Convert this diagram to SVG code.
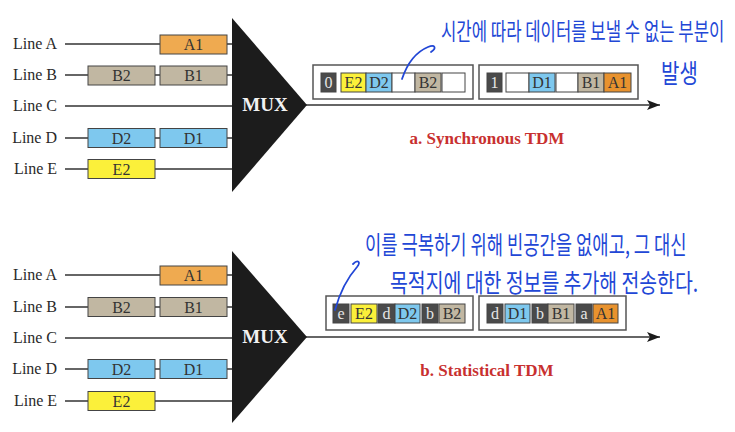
<svg xmlns="http://www.w3.org/2000/svg" width="735" height="432" viewBox="0 0 735 432">
<defs>
<style>
.lbl{font-family:"Liberation Serif","Times New Roman",serif;font-size:16px;fill:#2a2a2a;text-anchor:end}
.ln{stroke:#333;stroke-width:1.5;fill:none}
.bx{stroke:#444;stroke-width:1}
.bt{font-family:"Liberation Serif","Times New Roman",serif;font-size:16px;fill:#333;text-anchor:middle}
.dt{font-family:"Liberation Serif","Times New Roman",serif;font-size:16px;fill:#e6e6e6;text-anchor:middle}
.a{fill:#efaa50}.a2{fill:#e8922e}.b{fill:#c1b7a2}.d{fill:#7ec8ee}.e{fill:#fbf03a}.k{fill:#4a4a4a}.w{fill:#fff}
.frame{fill:#fff;stroke:#555;stroke-width:1.5}
.mux{fill:#1c1c1c}
.mt{font-family:"Liberation Serif","Times New Roman",serif;font-size:19px;font-weight:bold;fill:#f2f2f2;text-anchor:middle}
.cap{font-family:"Liberation Serif","Times New Roman",serif;font-size:17px;font-weight:bold;fill:#c8302f;text-anchor:middle}
.hw{font-family:"Noto Sans CJK KR","Noto Sans CJK SC",sans-serif;fill:#2247d6}
.hs{stroke:#2247d6;stroke-width:1.8;fill:none;stroke-linecap:round}
</style>
<marker id="arr" markerWidth="14" markerHeight="10" refX="13" refY="5" orient="auto" markerUnits="userSpaceOnUse">
<path d="M0,0 L13,5 L0,10 L3,5 Z" fill="#1c1c1c"/>
</marker>
</defs>

<!-- ===== Top: Synchronous TDM ===== -->
<g id="connectors-top">
<line class="ln" x1="65" y1="44" x2="232" y2="44"/>
<line class="ln" x1="65" y1="75" x2="232" y2="75"/>
<line class="ln" x1="65" y1="106" x2="232" y2="106"/>
<line class="ln" x1="65" y1="138" x2="232" y2="138"/>
<line class="ln" x1="65" y1="169" x2="232" y2="169"/>
<line class="ln" x1="305" y1="105" x2="660" y2="105" marker-end="url(#arr)"/>
</g>

<g id="labels-top">
<text class="lbl" x="57" y="49">Line A</text>
<text class="lbl" x="57" y="80">Line B</text>
<text class="lbl" x="57" y="111">Line C</text>
<text class="lbl" x="57" y="143">Line D</text>
<text class="lbl" x="57" y="174">Line E</text>
</g>

<g id="inputs-top">
<rect class="bx a" x="160" y="35" width="67" height="19"/><text class="bt" x="193.5" y="50">A1</text>
<rect class="bx b" x="88" y="66" width="67" height="19"/><text class="bt" x="121.5" y="81">B2</text>
<rect class="bx b" x="160" y="66" width="67" height="19"/><text class="bt" x="193.5" y="81">B1</text>
<rect class="bx d" x="88" y="128.5" width="67" height="19"/><text class="bt" x="121.5" y="143.5">D2</text>
<rect class="bx d" x="160" y="128.5" width="67" height="19"/><text class="bt" x="193.5" y="143.5">D1</text>
<rect class="bx e" x="88" y="159.5" width="67" height="19"/><text class="bt" x="121.5" y="174.5">E2</text>
</g>

<g id="mux-top">
<polygon class="mux" points="232,18 307,105 232,192"/>
<text class="mt" x="265" y="111">MUX</text>
</g>

<g id="frame-top-0">
<rect class="frame" x="313" y="65" width="160" height="34"/>
<rect class="bx k" x="321" y="73" width="15" height="19"/><text class="dt" x="328.5" y="88">0</text>
<rect class="bx e" x="341" y="73" width="25" height="19"/><text class="bt" x="353.5" y="88">E2</text>
<rect class="bx d" x="366" y="73" width="26" height="19"/><text class="bt" x="379" y="88">D2</text>
<rect class="bx w" x="392" y="73" width="23" height="19"/>
<rect class="bx b" x="415" y="73" width="26" height="19"/><text class="bt" x="428" y="88">B2</text>
<rect class="bx w" x="442" y="73" width="23" height="19"/>
</g>

<g id="frame-top-1">
<rect class="frame" x="479" y="65" width="159" height="34"/>
<rect class="bx k" x="487" y="73" width="15" height="19"/><text class="dt" x="494.5" y="88">1</text>
<rect class="bx w" x="506" y="73" width="23" height="19"/>
<rect class="bx d" x="529" y="73" width="26" height="19"/><text class="bt" x="542" y="88">D1</text>
<rect class="bx w" x="556" y="73" width="22" height="19"/>
<rect class="bx b" x="578" y="73" width="26" height="19"/><text class="bt" x="591" y="88">B1</text>
<rect class="bx a2" x="604" y="73" width="27" height="19"/><text class="bt" x="617.5" y="88">A1</text>
</g>

<text class="cap" x="487" y="144">a. Synchronous TDM</text>

<g id="note-top">
<path class="hs" d="M402,79 C407,64 416,52 428,47 C435,44 437,48 431,52"/>
<text class="hw" transform="translate(441,40) scale(1,1.4)" font-size="16.7">시간에 따라 데이터를 보낼 수 없는 부분이</text>
<text class="hw" transform="translate(661,83) scale(1,1.3)" font-size="20">발생</text>
</g>

<!-- ===== Bottom: Statistical TDM ===== -->
<g id="connectors-bottom">
<line class="ln" x1="65" y1="275" x2="232" y2="275"/>
<line class="ln" x1="65" y1="307" x2="232" y2="307"/>
<line class="ln" x1="65" y1="338" x2="232" y2="338"/>
<line class="ln" x1="65" y1="369" x2="232" y2="369"/>
<line class="ln" x1="65" y1="401" x2="232" y2="401"/>
<line class="ln" x1="305" y1="337" x2="660" y2="337" marker-end="url(#arr)"/>
</g>

<g id="labels-bottom">
<text class="lbl" x="57" y="280">Line A</text>
<text class="lbl" x="57" y="312">Line B</text>
<text class="lbl" x="57" y="343">Line C</text>
<text class="lbl" x="57" y="374">Line D</text>
<text class="lbl" x="57" y="406">Line E</text>
</g>

<g id="inputs-bottom">
<rect class="bx a" x="160" y="266" width="67" height="19"/><text class="bt" x="193.5" y="281">A1</text>
<rect class="bx b" x="88" y="297.5" width="67" height="19"/><text class="bt" x="121.5" y="312.5">B2</text>
<rect class="bx b" x="160" y="297.5" width="67" height="19"/><text class="bt" x="193.5" y="312.5">B1</text>
<rect class="bx d" x="88" y="359.5" width="67" height="19"/><text class="bt" x="121.5" y="374.5">D2</text>
<rect class="bx d" x="160" y="359.5" width="67" height="19"/><text class="bt" x="193.5" y="374.5">D1</text>
<rect class="bx e" x="88" y="391.5" width="67" height="19"/><text class="bt" x="121.5" y="406.5">E2</text>
</g>

<g id="mux-bottom">
<polygon class="mux" points="232,251 307,337 232,423"/>
<text class="mt" x="265" y="343">MUX</text>
</g>

<g id="frame-bottom-0">
<rect class="frame" x="326" y="296" width="147" height="34"/>
<rect class="bx k" x="333" y="304" width="16" height="19"/><text class="dt" x="341" y="319">e</text>
<rect class="bx e" x="351" y="304" width="26" height="19"/><text class="bt" x="364" y="319">E2</text>
<rect class="bx k" x="378" y="304" width="17" height="19"/><text class="dt" x="386.5" y="319">d</text>
<rect class="bx d" x="395" y="304" width="25" height="19"/><text class="bt" x="407.5" y="319">D2</text>
<rect class="bx k" x="422" y="304" width="16" height="19"/><text class="dt" x="430" y="319">b</text>
<rect class="bx b" x="439" y="304" width="26" height="19"/><text class="bt" x="452" y="319">B2</text>
</g>

<g id="frame-bottom-1">
<rect class="frame" x="479" y="296" width="147" height="34"/>
<rect class="bx k" x="487" y="304" width="16" height="19"/><text class="dt" x="495" y="319">d</text>
<rect class="bx d" x="505" y="304" width="25" height="19"/><text class="bt" x="517.5" y="319">D1</text>
<rect class="bx k" x="532" y="304" width="16" height="19"/><text class="dt" x="540" y="319">b</text>
<rect class="bx b" x="548" y="304" width="26" height="19"/><text class="bt" x="561" y="319">B1</text>
<rect class="bx k" x="576" y="304" width="16" height="19"/><text class="dt" x="584" y="319">a</text>
<rect class="bx a2" x="593" y="304" width="25" height="19"/><text class="bt" x="605.5" y="319">A1</text>
</g>

<text class="cap" x="487" y="376">b. Statistical TDM</text>

<g id="note-bottom">
<path class="hs" d="M335,310 C340,292 349,276 357,267 C361,262 358,259 353,264"/>
<text class="hw" transform="translate(365,254) scale(1,1.4)" font-size="17.7">이를 극복하기 위해 빈공간을 없애고, 그 대신</text>
<text class="hw" transform="translate(390,292) scale(1,1.3)" font-size="19.4">목적지에 대한 정보를 추가해 전송한다.</text>
</g>
</svg>
